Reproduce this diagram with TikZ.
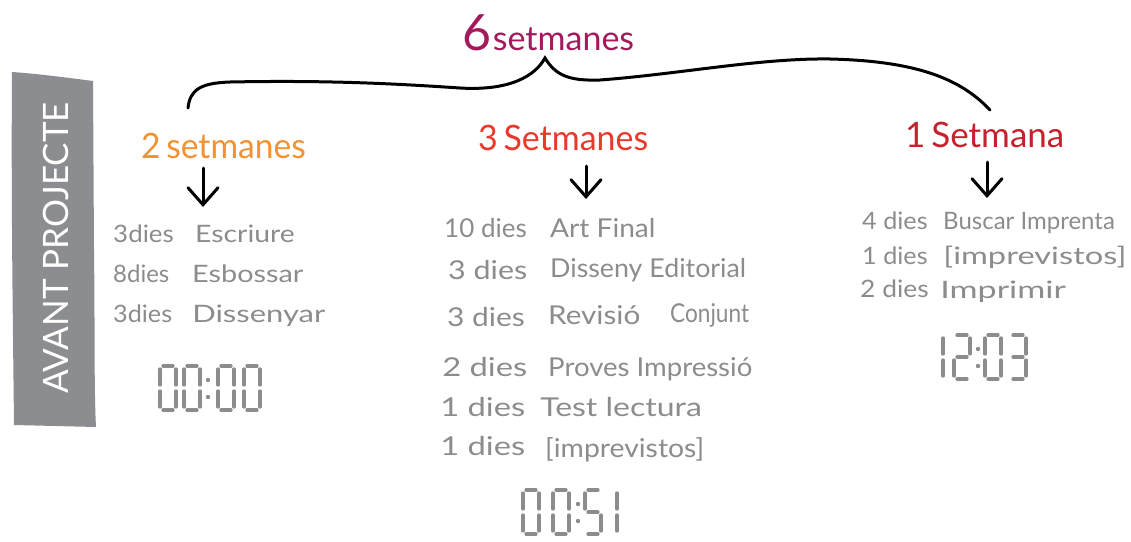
\documentclass[tikz,border=0pt]{standalone}
\usepackage{fontspec}
\setmainfont{Lato}
\usetikzlibrary{arrows.meta}

\definecolor{ink}{HTML}{8B8C8E}
\definecolor{bannergray}{HTML}{8C8D90}
\definecolor{plum}{HTML}{A3195B}
\definecolor{tangerine}{HTML}{F39233}
\definecolor{scarlet}{HTML}{E8392B}
\definecolor{crimson}{HTML}{C7202E}

% seven-segment pieces of one digit (16 wide, 44 high, origin top left)
\def\sga{(3,0) -- (13,0)}
\def\sgb{(16,3) -- (16,19)}
\def\sgc{(16,25) -- (16,41)}
\def\sgd{(3,44) -- (13,44)}
\def\sge{(0,25) -- (0,41)}
\def\sgf{(0,3) -- (0,19)}
\def\sgg{(3,22) -- (13,22)}

\newcommand\segdigit[3]{%
  \begin{scope}[shift={(#1,#2)}]
    \foreach \s in {#3}{%
      \edef\segpath{\noexpand\draw[seg] \csname sg\s\endcsname;}\segpath}
  \end{scope}}
\newcommand\segcolon[2]{%
  \fill[ink] (#1,#2+14) circle (2.2);
  \fill[ink] (#1,#2+31) circle (2.2);}

\tikzset{
  seg/.style={draw=ink, line width=3.3pt, line cap=round},
  head/.style={anchor=base west, inner sep=0pt, font=\fontsize{35}{40}\selectfont},
  item/.style={anchor=base west, inner sep=0pt, text=ink, font=\fontsize{24}{28}\selectfont},
  bigitem/.style={item, font=\fontsize{26}{30}\selectfont},
  downarrow/.style={draw=black, line width=3pt, line cap=round,
    -{Straight Barb[length=17pt,width=30pt,line cap=round]}},
  bracket/.style={draw=black, line width=3pt, line cap=round},
}

\begin{document}
\begin{tikzpicture}[x=1pt, y=-1pt]
\useasboundingbox (0,0) rectangle (1131,541);

% side banner
\fill[bannergray] (12,72) .. controls (40,74) and (70,78) .. (93,81)
  -- (94,250) .. controls (95,330) and (94,390) .. (96,427)
  -- (14,425) .. controls (13,330) and (11,200) .. cycle;
\node[rotate=90, text=white, inner sep=0pt,
  font=\fontsize{35}{38}\selectfont] (banner) at (56,248) {AVANT PROJECTE};

% overall duration and brace
\node[anchor=base west, inner sep=0pt, text=plum] (total) at (462,50)
  {{\fontsize{50}{54}\selectfont 6}\,{\fontsize{34}{38}\selectfont setmanes}};
\coordinate (braceL) at (188,108);
\coordinate (braceTip) at (545,58);
\coordinate (braceR) at (990,110);
\draw[bracket] (braceL) .. controls (190,90) and (200,83) .. (230,82)
  .. controls (330,80) and (400,84) .. (460,88)
  .. controls (510,91) and (535,76) .. (braceTip)
  .. controls (556,76) and (570,81) .. (600,80)
  .. controls (680,74) and (760,58) .. (830,59)
  .. controls (915,61) and (960,78) .. (braceR);

% phase headings
\node[head, text=tangerine, xscale=0.96] (h1) at (141,158) {2\,setmanes};
\node[head, text=scarlet, xscale=0.97] (h2) at (478,150) {3\,Setmanes};
\node[head, text=crimson] (h3) at (905,147) {1\,Setmana};

% arrows from headings to task lists
\coordinate (a1s) at (203,168); \coordinate (a1e) at (203,207);
\coordinate (a2s) at (586,166); \coordinate (a2e) at (586,199);
\coordinate (a3s) at (987,162); \coordinate (a3e) at (987,198);
\draw[downarrow] (a1s) -- (a1e);
\draw[downarrow] (a2s) -- (a2e);
\draw[downarrow] (a3s) -- (a3e);

% phase 1 tasks
\node[item, xscale=1.08] (c11) at (113,242) {3dies};
\node[item, xscale=1.18] (t11) at (195,242) {Escriure};
\node[item] (c12) at (113,282) {8dies};
\node[item, xscale=1.2] (t12) at (192,282) {Esbossar};
\node[item, xscale=1.05] (c13) at (113,322) {3dies};
\node[item, xscale=1.29] (t13) at (192,322) {Dissenyar};

% phase 2 tasks
\node[bigitem] (c21) at (444,237) {10 dies};
\node[bigitem, xscale=1.08] (t21) at (550,237) {Art Final};
\node[bigitem, xscale=1.17] (c22) at (448,279) {3 dies};
\node[bigitem, xscale=1.03] (t22) at (550,277) {Disseny Editorial};
\node[bigitem, xscale=1.15] (c23) at (447,326) {3 dies};
\node[bigitem, xscale=1.14] (t23) at (548,324) {Revisió};
\node[bigitem, xscale=0.87] (t23b) at (670,322) {Conjunt};
\node[bigitem, xscale=1.26] (c24) at (442,376) {2 dies};
\node[bigitem, xscale=1.06] (t24) at (548,376) {Proves Impressió};
\node[bigitem, xscale=1.26] (c25) at (440,416) {1 dies};
\node[bigitem, xscale=1.23] (t25) at (540,416) {Test lectura};
\node[bigitem, xscale=1.26] (c26) at (440,455) {1 dies};
\node[bigitem, xscale=1.09] (t26) at (545,457) {[imprevistos]};

% phase 3 tasks
\node[item, xscale=1.05] (c31) at (862,229) {4 dies};
\node[item] (t31) at (943,229) {Buscar Imprenta};
\node[item, xscale=1.05] (c32) at (862,264) {1 dies};
\node[item, xscale=1.36] (t32) at (943,264) {[imprevistos]};
\node[item, xscale=1.1] (c33) at (860,297) {2 dies};
\node[item, xscale=1.42] (t33) at (940,298) {Imprimir};

% digital clocks
\segdigit{160}{366}{a,b,c,d,e,f}
\segdigit{184}{366}{a,b,c,d,e,f}
\segcolon{208}{366}
\segdigit{218}{366}{a,b,c,d,e,f}
\segdigit{244}{366}{a,b,c,d,e,f}

\segdigit{523}{490}{a,b,c,d,e,f}
\segdigit{553}{490}{a,b,c,d,e,f}
\segcolon{578}{490}
\segdigit{585}{490}{a,f,g,c,d}
\segdigit{601}{490}{b,c}

\segdigit{927}{335}{b,c}
\segdigit{954}{335}{a,b,g,e,d}
\segcolon{978}{335}
\segdigit{985}{335}{a,b,c,d,e,f}
\segdigit{1010}{335}{a,b,g,c,d}
\end{tikzpicture}
\end{document}
